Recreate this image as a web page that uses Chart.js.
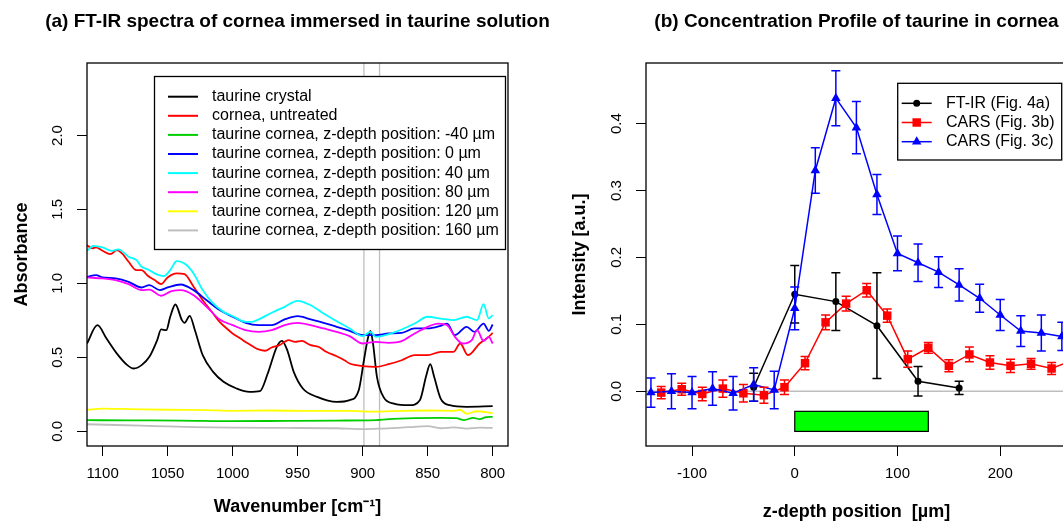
<!DOCTYPE html>
<html>
<head>
<meta charset="utf-8">
<script src="https://cdn.jsdelivr.net/npm/chart.js@4.4.1/dist/chart.umd.min.js"></script>
<style>
  html, body { margin: 0; padding: 0; background: #fff; overflow: hidden; }
  #wrap { position: relative; width: 1063px; height: 523px; overflow: hidden; }
  #chartA { position: absolute; left: 0; top: 0; }
  #chartB { position: absolute; left: 530px; top: 0; }
</style>
</head>
<body>
<div id="wrap">
  <canvas id="chartA" width="620" height="523"></canvas>
  <canvas id="chartB" width="560" height="523"></canvas>
</div>
<script>
const FONT = '"Liberation Sans", Arial, Helvetica, sans-serif';
Chart.defaults.font.family = FONT;
Chart.defaults.color = '#000';

// ---------- (a) FT-IR spectra ----------
const wnTicks = [1100, 1050, 1000, 950, 900, 850, 800];
const absTicks = [0, 0.5, 1.0, 1.5, 2.0];
const refLines = [899, 887];

const crystalWn = [1112, 1104, 1097, 1089, 1081, 1076, 1070, 1064, 1058, 1055, 1051, 1048, 1044, 1039, 1037, 1033, 1029, 1023, 1015, 1007, 997, 987, 979, 973, 966, 962, 958, 953, 946, 935, 920, 910, 903, 899, 896, 894, 892, 889, 884, 876, 864, 856, 851, 848, 845, 840, 833, 820, 800];
const crystalAbs = [0.593, 0.717, 0.627, 0.525, 0.447, 0.424, 0.447, 0.503, 0.616, 0.688, 0.683, 0.774, 0.857, 0.751, 0.733, 0.780, 0.683, 0.514, 0.401, 0.334, 0.289, 0.266, 0.271, 0.390, 0.571, 0.611, 0.548, 0.401, 0.289, 0.232, 0.198, 0.210, 0.277, 0.480, 0.627, 0.679, 0.593, 0.368, 0.232, 0.187, 0.176, 0.210, 0.379, 0.453, 0.368, 0.221, 0.176, 0.165, 0.169];

const untreatedWn = [1112, 1108, 1105, 1100, 1094, 1089, 1085, 1080, 1074, 1070, 1065, 1060, 1055, 1050, 1043, 1037, 1030, 1023, 1020, 1015, 1010, 1003, 1000, 994, 990, 984, 980, 975, 970, 964, 957, 952, 947, 940, 934, 928, 920, 914, 910, 905, 900, 890, 880, 870, 860, 850, 840, 830, 825, 819, 810, 803, 800];
const untreatedAbs = [1.258, 1.236, 1.243, 1.220, 1.198, 1.225, 1.202, 1.146, 1.089, 1.089, 1.049, 1.022, 0.995, 1.040, 1.067, 1.062, 0.977, 0.886, 0.852, 0.796, 0.740, 0.683, 0.661, 0.627, 0.604, 0.571, 0.553, 0.544, 0.566, 0.582, 0.616, 0.604, 0.611, 0.582, 0.571, 0.537, 0.507, 0.480, 0.458, 0.447, 0.440, 0.435, 0.453, 0.480, 0.514, 0.514, 0.537, 0.537, 0.593, 0.514, 0.593, 0.638, 0.665];

const zm40Wn = [1112, 1080, 1040, 1000, 960, 920, 890, 880, 860, 840, 828, 822, 815, 810, 805, 800];
const zm40Abs = [0.075, 0.073, 0.072, 0.068, 0.070, 0.072, 0.075, 0.082, 0.088, 0.090, 0.088, 0.075, 0.090, 0.082, 0.095, 0.097];

const z0Wn = [1112, 1105, 1100, 1090, 1080, 1070, 1064, 1056, 1050, 1040, 1030, 1020, 1010, 1000, 990, 980, 970, 960, 950, 940, 930, 920, 910, 900, 890, 880, 870, 860, 850, 840, 835, 829, 820, 814, 807, 803, 800];
const z0Abs = [1.044, 1.055, 1.040, 1.033, 1.010, 0.972, 0.988, 0.954, 0.972, 0.992, 0.954, 0.886, 0.819, 0.774, 0.733, 0.717, 0.717, 0.756, 0.778, 0.756, 0.733, 0.706, 0.679, 0.650, 0.650, 0.661, 0.665, 0.695, 0.695, 0.713, 0.728, 0.650, 0.706, 0.672, 0.728, 0.679, 0.722];

const z40Wn = [1112, 1107, 1100, 1093, 1088, 1080, 1074, 1070, 1065, 1060, 1053, 1048, 1043, 1037, 1030, 1023, 1015, 1007, 1000, 990, 985, 980, 970, 960, 950, 940, 930, 920, 910, 900, 894, 890, 880, 870, 860, 850, 840, 830, 820, 812, 807, 803, 800];
const z40Abs = [1.220, 1.254, 1.243, 1.220, 1.229, 1.180, 1.157, 1.112, 1.094, 1.067, 1.049, 1.089, 1.150, 1.134, 1.067, 0.954, 0.864, 0.807, 0.778, 0.740, 0.740, 0.756, 0.801, 0.841, 0.882, 0.852, 0.796, 0.744, 0.695, 0.643, 0.672, 0.638, 0.656, 0.688, 0.728, 0.774, 0.762, 0.751, 0.774, 0.751, 0.859, 0.762, 0.785];

const z80Wn = [1112, 1100, 1090, 1080, 1070, 1064, 1055, 1047, 1040, 1030, 1020, 1010, 1000, 990, 980, 970, 960, 950, 940, 930, 920, 910, 900, 890, 880, 870, 860, 850, 842, 835, 829, 823, 816, 812, 807, 803, 800];
const z80Abs = [1.040, 1.033, 1.022, 0.995, 0.954, 0.958, 0.916, 0.947, 0.954, 0.920, 0.841, 0.756, 0.717, 0.683, 0.672, 0.683, 0.717, 0.733, 0.717, 0.695, 0.672, 0.643, 0.593, 0.604, 0.598, 0.609, 0.661, 0.706, 0.728, 0.717, 0.638, 0.593, 0.616, 0.683, 0.611, 0.638, 0.593];

const z120Wn = [1112, 1100, 1080, 1050, 1020, 1000, 970, 940, 910, 890, 870, 850, 830, 825, 820, 812, 800];
const z120Abs = [0.145, 0.153, 0.150, 0.145, 0.143, 0.138, 0.140, 0.137, 0.137, 0.132, 0.138, 0.140, 0.138, 0.145, 0.118, 0.135, 0.122];

const z160Wn = [1112, 1090, 1060, 1030, 1000, 960, 920, 900, 885, 870, 860, 850, 840, 830, 820, 810, 800];
const z160Abs = [0.047, 0.042, 0.035, 0.028, 0.024, 0.022, 0.020, 0.014, 0.018, 0.024, 0.030, 0.034, 0.020, 0.026, 0.018, 0.024, 0.022];

const spectraLabels = [
  'taurine crystal',
  'cornea, untreated',
  'taurine cornea, z-depth position: -40 µm',
  'taurine cornea, z-depth position: 0 µm',
  'taurine cornea, z-depth position: 40 µm',
  'taurine cornea, z-depth position: 80 µm',
  'taurine cornea, z-depth position: 120 µm',
  'taurine cornea, z-depth position: 160 µm'
];
const spectraColors = ['#000000', '#FF0000', '#00CD00', '#0000FF', '#00FFFF', '#FF00FF', '#FFFF00', '#BEBEBE'];

// ---------- (b) concentration profile ----------
const depthTicks = [-100, 0, 100, 200];
const intensityTicks = [0, 0.1, 0.2, 0.3, 0.4];

const ftirDepth = [-40, 0, 40, 80, 120, 160];
const ftirVal = [0.006, 0.145, 0.134, 0.098, 0.015, 0.005];
const ftirErr = [0.021, 0.043, 0.043, 0.079, 0.022, 0.010];

const cars3bDepth = [-130, -110, -90, -70, -50, -30, -10, 10, 30, 50, 70, 90, 110, 130, 150, 170, 190, 210, 230, 250, 270];
const cars3bVal = [-0.002, 0.003, -0.004, 0.004, -0.003, -0.006, 0.006, 0.042, 0.103, 0.131, 0.151, 0.113, 0.048, 0.065, 0.038, 0.055, 0.043, 0.038, 0.041, 0.034, 0.046];
const cars3bErr = [0.009, 0.009, 0.010, 0.013, 0.013, 0.012, 0.011, 0.010, 0.011, 0.011, 0.010, 0.010, 0.012, 0.008, 0.009, 0.011, 0.010, 0.010, 0.008, 0.009, 0.010];

const cars3cDepth = [-140, -120, -100, -80, -60, -40, -20, 0, 20, 40, 60, 80, 100, 120, 140, 160, 180, 200, 220, 240, 260];
const cars3cVal = [-0.002, 0.000, -0.002, 0.004, -0.003, 0.010, 0.002, 0.124, 0.330, 0.438, 0.394, 0.294, 0.206, 0.192, 0.178, 0.159, 0.139, 0.114, 0.090, 0.087, 0.082];
const cars3cErr = [0.022, 0.026, 0.024, 0.025, 0.025, 0.025, 0.028, 0.032, 0.034, 0.041, 0.039, 0.030, 0.026, 0.028, 0.023, 0.024, 0.021, 0.023, 0.023, 0.027, 0.021];

const greenBarDepth = [0, 130];
const greenBarLevel = [-0.06, -0.03];

const pts = (xs, ys) => xs.map((v, i) => ({ x: v, y: ys[i] }));

// draws the R-style box, main title and rotated y tick labels
function drawFrame(chart, title) {
  const { ctx, chartArea: a, scales } = chart;
  ctx.save();
  ctx.strokeStyle = '#000';
  ctx.lineWidth = 1.3;
  ctx.strokeRect(a.left, a.top, a.right - a.left, a.bottom - a.top);
  ctx.fillStyle = '#000';
  ctx.textAlign = 'center';
  ctx.textBaseline = 'middle';
  ctx.font = 'bold 19px ' + FONT;
  ctx.fillText(title, (a.left + a.right) / 2, 22);
  ctx.font = '15px ' + FONT;
  scales.y.ticks.forEach(t => {
    ctx.save();
    ctx.translate(a.left - 29, scales.y.getPixelForValue(t.value));
    ctx.rotate(-Math.PI / 2);
    ctx.fillText(t.value.toFixed(1), 0, 0);
    ctx.restore();
  });
  ctx.restore();
}

function axisX(min, max, ticks, reverse, titleText, titleBottom) {
  return {
    type: 'linear', min: min, max: max, reverse: reverse,
    afterBuildTicks: s => { s.ticks = ticks.map(v => ({ value: v })); },
    afterFit: s => { s.height = 77; },
    grid: { drawOnChartArea: false, tickLength: 10, color: '#000', lineWidth: 1 },
    border: { display: false },
    ticks: { font: { size: 15 }, padding: 9, maxRotation: 0, autoSkip: false, callback: v => String(v) },
    title: { display: true, text: titleText, font: { size: 18, weight: 'bold' }, padding: { top: 0, bottom: titleBottom } }
  };
}

function axisY(min, max, ticks, width, titleText, titleLeft) {
  return {
    type: 'linear', min: min, max: max,
    afterBuildTicks: s => { s.ticks = ticks.map(v => ({ value: v })); },
    afterFit: s => { s.width = width; },
    grid: { drawOnChartArea: false, tickLength: 10, color: '#000', lineWidth: 1 },
    border: { display: false },
    ticks: { color: 'rgba(0,0,0,0)', font: { size: 15 } },
    title: { display: true, text: titleText, font: { size: 18, weight: 'bold' }, padding: { top: titleLeft, bottom: 0 } }
  };
}

// ---------- chart (a) ----------
const spectraWn = [crystalWn, untreatedWn, zm40Wn, z0Wn, z40Wn, z80Wn, z120Wn, z160Wn];
const spectraAbs = [crystalAbs, untreatedAbs, zm40Abs, z0Abs, z40Abs, z80Abs, z120Abs, z160Abs];

const panelA = {
  id: 'panelA',
  beforeDatasetsDraw(chart) {
    const { ctx, chartArea: a, scales: { x } } = chart;
    ctx.save();
    ctx.strokeStyle = '#BEBEBE';
    ctx.lineWidth = 1.3;
    refLines.forEach(w => {
      const px = x.getPixelForValue(w);
      ctx.beginPath();
      ctx.moveTo(px, a.top);
      ctx.lineTo(px, a.bottom);
      ctx.stroke();
    });
    ctx.restore();
  },
  afterDraw(chart) {
    drawFrame(chart, '(a) FT-IR spectra of cornea immersed in taurine solution');
    const ctx = chart.ctx;
    ctx.save();
    ctx.fillStyle = '#fff';
    ctx.fillRect(154.5, 76.5, 351, 173);
    ctx.strokeStyle = '#000';
    ctx.lineWidth = 1.3;
    ctx.strokeRect(154.5, 76.5, 351, 173);
    ctx.font = '16px ' + FONT;
    ctx.textAlign = 'left';
    ctx.textBaseline = 'middle';
    chart.data.datasets.forEach((ds, i) => {
      const y = 96.7 + i * 19.1;
      ctx.strokeStyle = ds.borderColor;
      ctx.lineWidth = 2;
      ctx.beginPath();
      ctx.moveTo(168, y);
      ctx.lineTo(198, y);
      ctx.stroke();
      ctx.fillStyle = '#000';
      ctx.fillText(ds.label, 212, y);
    });
    ctx.restore();
  }
};

new Chart(document.getElementById('chartA'), {
  type: 'line',
  data: {
    datasets: spectraLabels.map((label, i) => ({
      label: label,
      data: pts(spectraWn[i], spectraAbs[i]),
      borderColor: spectraColors[i],
      borderWidth: 1.8,
      pointRadius: 0,
      cubicInterpolationMode: 'monotone',
      fill: false,
      order: -i
    }))
  },
  options: {
    responsive: false,
    animation: false,
    events: [],
    layout: { padding: { top: 63, right: 112, left: 0, bottom: 0 } },
    plugins: { legend: { display: false }, title: { display: false }, tooltip: { enabled: false } },
    scales: {
      x: axisX(788.2, 1112, wnTicks, true, 'Wavenumber [cm\u207B\u00B9]', 5),
      y: axisY(-0.10, 2.49, absTicks, 87, 'Absorbance', 11)
    }
  },
  plugins: [panelA]
});

// ---------- chart (b) ----------
const panelB = {
  id: 'panelB',
  beforeDatasetsDraw(chart) {
    const { ctx, chartArea: a, scales: { x, y } } = chart;
    ctx.save();
    ctx.strokeStyle = '#BEBEBE';
    ctx.lineWidth = 1.5;
    const y0 = y.getPixelForValue(0);
    ctx.beginPath();
    ctx.moveTo(a.left, y0);
    ctx.lineTo(a.right, y0);
    ctx.stroke();
    const x1 = x.getPixelForValue(greenBarDepth[0]);
    const x2 = x.getPixelForValue(greenBarDepth[1]);
    const yt = y.getPixelForValue(greenBarLevel[1]);
    const yb = y.getPixelForValue(greenBarLevel[0]);
    ctx.fillStyle = '#00FF00';
    ctx.fillRect(x1, yt, x2 - x1, yb - yt);
    ctx.strokeStyle = '#000';
    ctx.lineWidth = 1.2;
    ctx.strokeRect(x1, yt, x2 - x1, yb - yt);
    ctx.restore();
  },
  afterDatasetsDraw(chart) {
    const { ctx, chartArea: a, scales: { x, y } } = chart;
    ctx.save();
    ctx.beginPath();
    ctx.rect(a.left, a.top, a.right - a.left, a.bottom - a.top);
    ctx.clip();
    chart.data.datasets.forEach(ds => {
      ctx.strokeStyle = ds.borderColor;
      ctx.lineWidth = 1.5;
      ds.data.forEach((p, i) => {
        const px = x.getPixelForValue(p.x);
        const y1 = y.getPixelForValue(p.y - ds.errors[i]);
        const y2 = y.getPixelForValue(p.y + ds.errors[i]);
        ctx.beginPath();
        ctx.moveTo(px, y1); ctx.lineTo(px, y2);
        ctx.moveTo(px - 4.5, y1); ctx.lineTo(px + 4.5, y1);
        ctx.moveTo(px - 4.5, y2); ctx.lineTo(px + 4.5, y2);
        ctx.stroke();
      });
    });
    ctx.restore();
  },
  afterDraw(chart) {
    drawFrame(chart, '(b) Concentration Profile of taurine in cornea');
    const ctx = chart.ctx;
    ctx.save();
    ctx.fillStyle = '#fff';
    ctx.fillRect(367.7, 83.3, 164, 76.7);
    ctx.strokeStyle = '#000';
    ctx.lineWidth = 1.3;
    ctx.strokeRect(367.7, 83.3, 164, 76.7);
    ctx.font = '16px ' + FONT;
    ctx.textAlign = 'left';
    ctx.textBaseline = 'middle';
    chart.data.datasets.forEach((ds, i) => {
      const y = 103.3 + i * 19.2;
      const cx = 386.7;
      ctx.strokeStyle = ds.borderColor;
      ctx.fillStyle = ds.borderColor;
      ctx.lineWidth = 1.5;
      ctx.beginPath();
      ctx.moveTo(371.7, y);
      ctx.lineTo(401.7, y);
      ctx.stroke();
      ctx.beginPath();
      if (ds.pointStyle === 'circle') {
        ctx.arc(cx, y, ds.pointRadius, 0, Math.PI * 2);
      } else if (ds.pointStyle === 'rect') {
        const h = ds.pointRadius * Math.SQRT1_2;
        ctx.rect(cx - h, y - h, 2 * h, 2 * h);
      } else {
        const r = ds.pointRadius;
        ctx.moveTo(cx, y - r);
        ctx.lineTo(cx + r * 0.866, y + r / 2);
        ctx.lineTo(cx - r * 0.866, y + r / 2);
        ctx.closePath();
      }
      ctx.fill();
      ctx.fillStyle = '#000';
      ctx.fillText(ds.label, 416, y);
    });
    ctx.restore();
  }
};

new Chart(document.getElementById('chartB'), {
  type: 'line',
  data: {
    datasets: [
      { label: 'FT-IR (Fig. 4a)', data: pts(ftirDepth, ftirVal), errors: ftirErr,
        borderColor: '#000000', backgroundColor: '#000000', pointStyle: 'circle', pointRadius: 3.5, order: 2 },
      { label: 'CARS (Fig. 3b)', data: pts(cars3bDepth, cars3bVal), errors: cars3bErr,
        borderColor: '#FF0000', backgroundColor: '#FF0000', pointStyle: 'rect', pointRadius: 6, order: 1 },
      { label: 'CARS (Fig. 3c)', data: pts(cars3cDepth, cars3cVal), errors: cars3cErr,
        borderColor: '#0000FF', backgroundColor: '#0000FF', pointStyle: 'triangle', pointRadius: 5.5, order: 0 }
    ].map(ds => Object.assign(ds, { borderWidth: 1.5, pointBorderWidth: 0, tension: 0, fill: false }))
  },
  options: {
    responsive: false,
    animation: false,
    events: [],
    layout: { padding: { top: 63, right: 23, left: 0, bottom: 0 } },
    plugins: { legend: { display: false }, title: { display: false }, tooltip: { enabled: false } },
    scales: {
      x: axisX(-144.8, 265, depthTicks, false, 'z-depth position  [µm]', 0),
      y: axisY(-0.0818, 0.4906, intensityTicks, 116, 'Intensity [a.u.]', 39)
    }
  },
  plugins: [panelB]
});
</script>
</body>
</html>
